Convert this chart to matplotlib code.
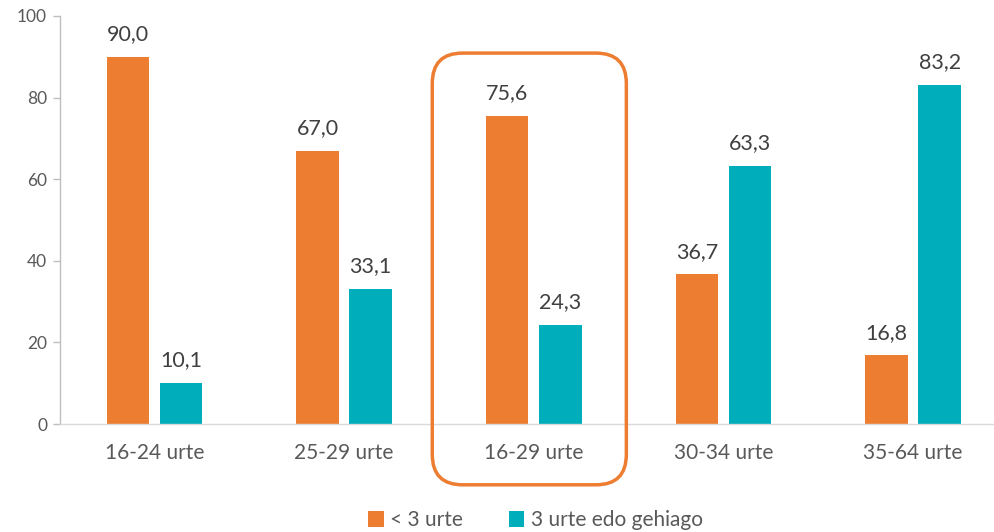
import matplotlib
matplotlib.use("Agg")
import matplotlib.pyplot as plt
from matplotlib.patches import FancyBboxPatch, Patch
import numpy as np

categories = ["16-24 urte", "25-29 urte", "16-29 urte", "30-34 urte", "35-64 urte"]
series_names = ["< 3 urte", "3 urte edo gehiago"]
less3 = [90.0, 67.0, 75.6, 36.7, 16.8]
more3 = [10.1, 33.1, 24.3, 63.3, 83.2]
y_ticks = [0, 20, 40, 60, 80, 100]
highlight = "16-29 urte"

ORANGE = "#ED7D31"
TEAL = "#00AEBB"
TXT = "#595959"
VAL = "#404040"

plt.rcParams['font.family'] = ['Lato', 'DejaVu Sans']

fig = plt.figure(figsize=(9.95, 5.32), dpi=100)
ax = fig.add_axes([0.0598, 0.203, 0.9533, 0.767])

x = np.arange(len(categories))
w = 0.224
off = 0.14
b1 = ax.bar(x - off, less3, width=w, color=ORANGE, zorder=2)
b2 = ax.bar(x + off, more3, width=w, color=TEAL, zorder=2)

for bars, vals in ((b1, less3), (b2, more3)):
    for r, v in zip(bars, vals):
        ax.annotate(f"{v:.1f}".replace(".", ","),
                    (r.get_x() + r.get_width() / 2, v),
                    xytext=(0, 9), textcoords="offset points",
                    ha="center", va="bottom", fontsize=15.5, color=VAL)

ax.set_xlim(-0.5, len(categories) - 0.5)
ax.set_ylim(0, 100)
ax.set_yticks(y_ticks)
ax.set_yticklabels([str(t) for t in y_ticks])
ax.set_xticks(x)
ax.set_xticklabels(categories)
ax.tick_params(axis="y", colors="#BFBFBF", labelcolor=TXT, labelsize=12.5,
               length=5, width=1, pad=4)
ax.tick_params(axis="x", length=0, labelcolor=TXT, labelsize=15, pad=14)

for s in ("top", "right"):
    ax.spines[s].set_visible(False)
ax.spines["left"].set_color("#BFBFBF")
ax.spines["bottom"].set_color("#D9D9D9")
ax.spines["left"].set_linewidth(1)
ax.spines["bottom"].set_linewidth(1)

# highlight rounded box around one category
i = categories.index(highlight)
xl, xr = i - 0.535, i + 0.488
yb, yt = -14.9, 90.9
xpx = 189.6
ypx = 408 / 100
box = FancyBboxPatch((xl, yb), xr - xl, yt - yb,
                     boxstyle="round,pad=0,rounding_size=0.16",
                     mutation_aspect=xpx / ypx,
                     transform=ax.transData, fill=False,
                     edgecolor=ORANGE, linewidth=2.5, clip_on=False, zorder=3)
ax.add_patch(box)

handles = [Patch(facecolor=ORANGE, edgecolor="none"), Patch(facecolor=TEAL, edgecolor="none")]
fig.legend(handles, series_names, loc="center", bbox_to_anchor=(0.538, 0.022),
           ncol=2, frameon=False, fontsize=15, labelcolor=TXT,
           handlelength=0.75, handleheight=0.75, handletextpad=0.3, columnspacing=2.2)

fig.savefig("out.png", dpi=100)
